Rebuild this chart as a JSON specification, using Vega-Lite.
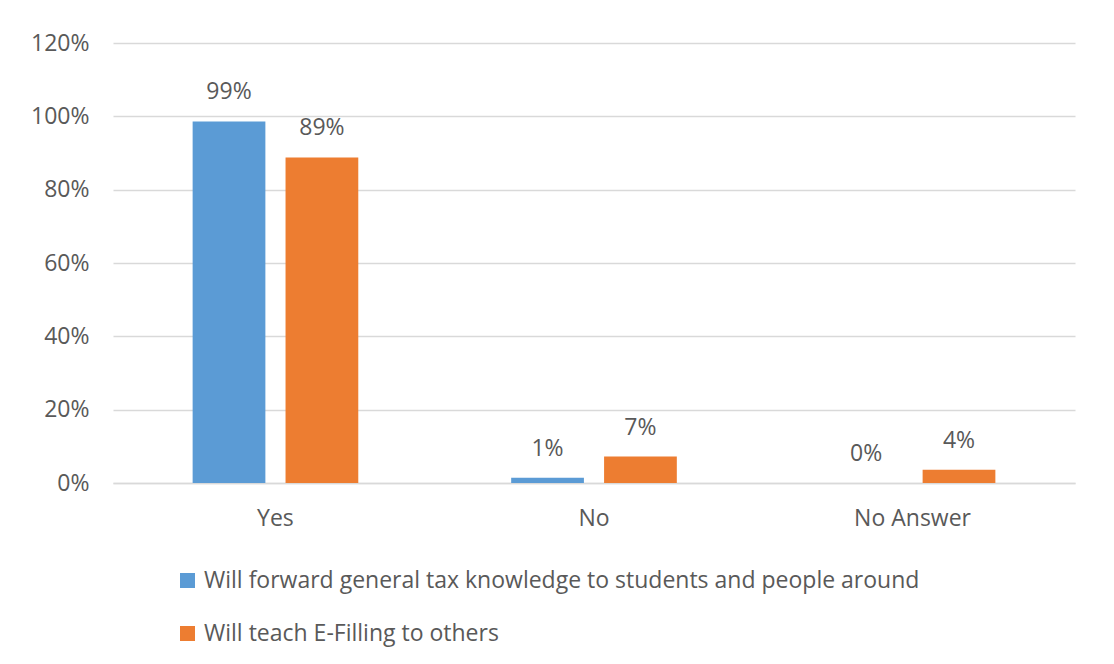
{
  "$schema": "https://vega.github.io/schema/vega-lite/v6.json",
  "autosize": {"type": "none"},
  "padding": {"left": 113, "top": 43, "right": 39, "bottom": 181},
  "width": 962,
  "height": 440,
  "background": "white",
  "config": {
    "view": {"stroke": null},
    "font": "Open Sans",
    "axis": {"labelColor": "#595959", "labelFont": "Open Sans", "labelFontSize": 23, "title": null},
    "legend": {"labelColor": "#595959", "labelFont": "Open Sans", "labelFontSize": 23}
  },
  "data": {
    "values": [
      {"category": "Yes", "series": "Will forward general tax knowledge to students and people around", "value": 0.986},
      {"category": "Yes", "series": "Will teach E-Filling to others", "value": 0.888},
      {"category": "No", "series": "Will forward general tax knowledge to students and people around", "value": 0.014},
      {"category": "No", "series": "Will teach E-Filling to others", "value": 0.072},
      {"category": "No Answer", "series": "Will forward general tax knowledge to students and people around", "value": 0.0},
      {"category": "No Answer", "series": "Will teach E-Filling to others", "value": 0.036}
    ]
  },
  "encoding": {
    "x": {
      "field": "category", "type": "nominal", "sort": ["Yes", "No", "No Answer"],
      "scale": {"paddingInner": 0.48, "paddingOuter": 0.25},
      "axis": {"labelAngle": 0, "ticks": false, "domainColor": "#d9d9d9", "domainWidth": 1.5, "labelPadding": 24, "labelFontSize": 23}
    },
    "xOffset": {
      "field": "series", "type": "nominal",
      "sort": ["Will forward general tax knowledge to students and people around", "Will teach E-Filling to others"],
      "scale": {"paddingInner": 0.217, "paddingOuter": 0}
    },
    "y": {
      "field": "value", "type": "quantitative",
      "scale": {"domain": [0, 1.2], "nice": false},
      "axis": {"format": ".0%", "values": [0, 0.2, 0.4, 0.6, 0.8, 1.0, 1.2], "domain": false, "ticks": false, "gridColor": "#d9d9d9", "gridWidth": 1.5, "labelPadding": 24}
    }
  },
  "layer": [
    {
      "mark": {"type": "bar"},
      "encoding": {
        "color": {
          "field": "series", "type": "nominal",
          "sort": ["Will forward general tax knowledge to students and people around", "Will teach E-Filling to others"],
          "scale": {"range": ["#5B9BD5", "#ED7D31"]},
          "legend": {
            "title": null, "orient": "none", "legendX": 63, "legendY": 526,
            "direction": "vertical", "symbolType": "square", "symbolSize": 225,
            "symbolStrokeWidth": 0, "labelLimit": 1000, "rowPadding": 29, "labelOffset": 5
          }
        }
      }
    },
    {
      "mark": {"type": "text", "align": "center", "baseline": "alphabetic", "dy": -22, "color": "#595959", "fontSize": 23, "font": "Open Sans"},
      "encoding": {
        "text": {"field": "value", "type": "quantitative", "format": ".0%"}
      }
    }
  ]
}
